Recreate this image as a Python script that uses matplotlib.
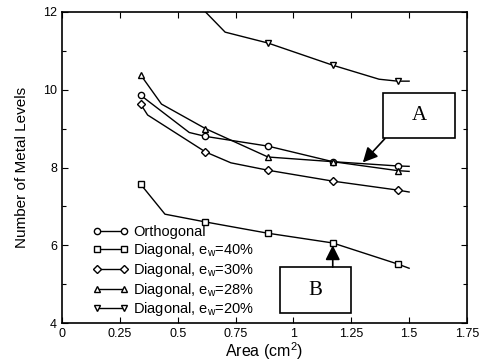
import matplotlib
matplotlib.use("Agg")
import matplotlib.pyplot as plt
from matplotlib.patches import Rectangle
from matplotlib.ticker import MultipleLocator

plt.rcParams['font.family'] = ['Liberation Sans', 'DejaVu Sans']
plt.rcParams['mathtext.fontset'] = 'custom'
plt.rcParams['mathtext.rm'] = 'Liberation Sans'

# marker positions (area, cm^2)
area = [0.34, 0.62, 0.89, 1.17, 1.45]

# values at the markers
ortho = [9.86, 8.80, 8.55, 8.15, 8.04]
diag40 = [7.57, 6.60, 6.31, 6.06, 5.52]
diag30 = [9.63, 8.40, 7.93, 7.65, 7.42]
diag28 = [10.38, 9.00, 8.27, 8.15, 7.92]
diag20 = [None, None, 11.20, 10.63, 10.22]

# the drawn curves go through a few extra points
ortho_x = [0.34, 0.37, 0.55, 0.62, 0.89, 1.17, 1.45, 1.50]
ortho_y = [9.86, 9.72, 8.90, 8.80, 8.55, 8.15, 8.04, 8.03]
diag40_x = [0.34, 0.445, 0.62, 0.89, 1.17, 1.45, 1.50]
diag40_y = [7.57, 6.80, 6.60, 6.31, 6.06, 5.52, 5.41]
diag30_x = [0.34, 0.37, 0.62, 0.73, 0.89, 1.17, 1.45, 1.50]
diag30_y = [9.63, 9.35, 8.40, 8.12, 7.93, 7.65, 7.42, 7.37]
diag28_x = [0.34, 0.43, 0.62, 0.89, 1.17, 1.45, 1.50]
diag28_y = [10.38, 9.63, 9.00, 8.27, 8.15, 7.92, 7.90]
diag20_x = [0.34, 0.62, 0.705, 0.89, 1.17, 1.37, 1.45, 1.50]
diag20_y = [14.0, 12.0, 11.48, 11.20, 10.63, 10.27, 10.22, 10.22]

labels = ['Orthogonal', 'Diagonal, e$_{\\rm w}$=40%', 'Diagonal, e$_{\\rm w}$=30%',
          'Diagonal, e$_{\\rm w}$=28%', 'Diagonal, e$_{\\rm w}$=20%']
markers = ['o', 's', 'D', '^', 'v']

fig = plt.figure(figsize=(4.9, 3.61), dpi=100)
ax = fig.add_axes([0.1265, 0.105, 0.8265, 0.862])

lines_x = [ortho_x, diag40_x, diag30_x, diag28_x, diag20_x]
lines_y = [ortho_y, diag40_y, diag30_y, diag28_y, diag20_y]
marks = [ortho, diag40, diag30, diag28, diag20]
msize = [4.5, 4.2, 3.8, 5, 5]

for lx, ly, mv, m, lab, ms in zip(lines_x, lines_y, marks, markers, labels, msize):
    ax.plot(lx, ly, color='black', lw=1.0)
    px = [a for a, v in zip(area, mv) if v is not None]
    py = [v for v in mv if v is not None]
    ax.plot(px, py, ls='none', marker=m, ms=ms, mfc='white', mec='black', mew=1.0)
    # legend entry: line with a marker at both ends
    ax.plot([], [], color='black', lw=1.0, marker=m, ms=ms, mfc='white',
            mec='black', mew=1.0, label=lab)

ax.set_xlim(0, 1.75)
ax.set_ylim(4, 12)
ax.set_xticks([0, 0.25, 0.5, 0.75, 1, 1.25, 1.5, 1.75])
ax.set_xticklabels(['0', '0.25', '0.5', '0.75', '1', '1.25', '1.5', '1.75'])
ax.set_yticks([4, 6, 8, 10, 12])
ax.yaxis.set_minor_locator(MultipleLocator(1))
ax.tick_params(which='both', direction='in', top=True, right=True, labelsize=9, width=0.8)
ax.tick_params(which='major', length=4)
ax.tick_params(which='minor', length=3)
for s in ax.spines.values():
    s.set_linewidth(1.2)

ax.set_xlabel('Area (cm$^{\\rm 2}$)', fontsize=11.5, labelpad=0)
ax.set_ylabel('Number of Metal Levels', fontsize=11, labelpad=10)

ax.legend(loc='lower left', bbox_to_anchor=(0.075, 0.015), frameon=False,
          numpoints=2, handlelength=2.5, handletextpad=0.3, labelspacing=0.12,
          borderpad=0, borderaxespad=0, fontsize=10.5)

# callout A
ax.add_patch(Rectangle((1.387, 8.76), 0.311, 1.15, fill=False, ec='black', lw=1.2))
ax.text(1.5425, 9.33, 'A', fontsize=15, family='Liberation Serif', ha='center', va='center')
ax.annotate('', xy=(1.30, 8.13), xytext=(1.395, 8.74),
            arrowprops=dict(arrowstyle='-|>', color='black', lw=1.2, mutation_scale=22,
                            shrinkA=0, shrinkB=0))

# callout B
ax.add_patch(Rectangle((0.942, 4.26), 0.307, 1.18, fill=False, ec='black', lw=1.2))
ax.text(1.0955, 4.85, 'B', fontsize=15, family='Liberation Serif', ha='center', va='center')
ax.annotate('', xy=(1.17, 6.0), xytext=(1.17, 5.44),
            arrowprops=dict(arrowstyle='-|>', color='black', lw=1.2, mutation_scale=22,
                            shrinkA=0, shrinkB=0))

fig.savefig('out.png', dpi=100)
